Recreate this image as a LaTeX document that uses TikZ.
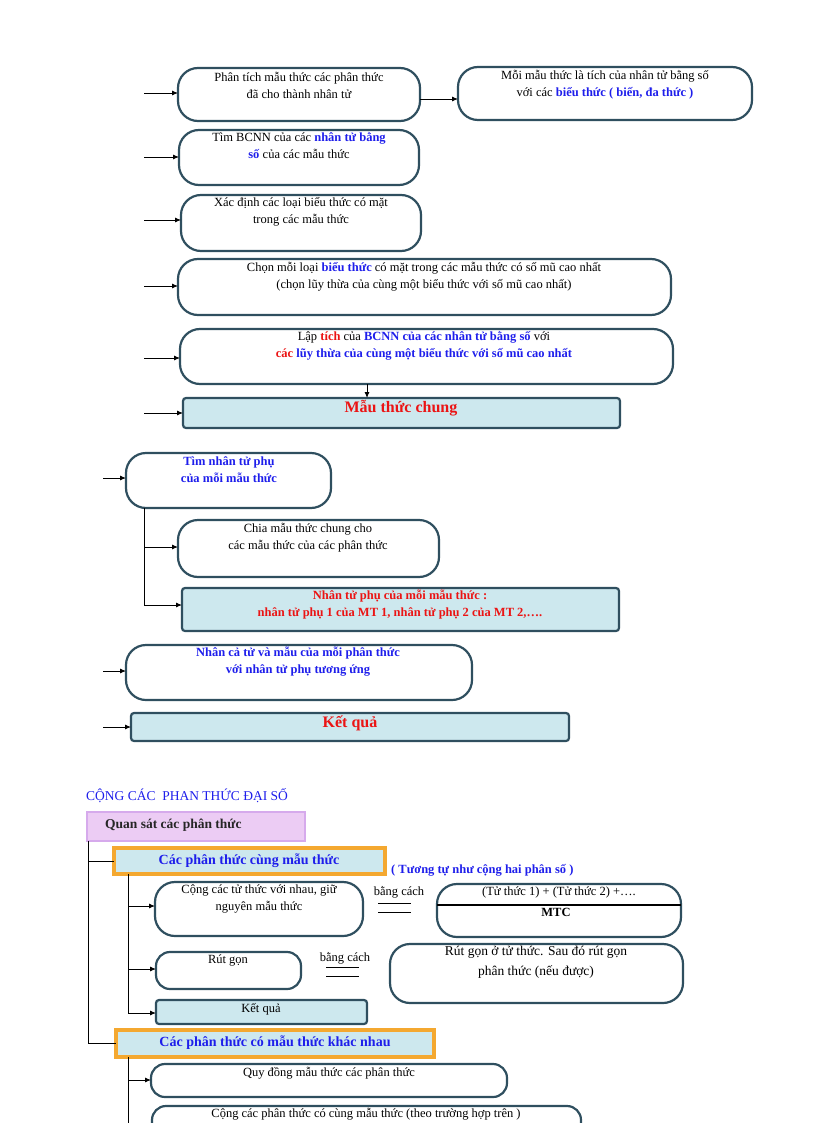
\documentclass[tikz,border=0pt]{standalone}
\usepackage{fontspec}
\setmainfont{Liberation Serif}
\usetikzlibrary{arrows.meta}
\definecolor{bd}{RGB}{47,79,95}
\definecolor{fc}{RGB}{205,232,238}
\definecolor{bl}{RGB}{30,30,235}
\definecolor{rd}{RGB}{235,20,20}
\definecolor{orb}{RGB}{244,168,48}
\definecolor{lav}{RGB}{236,204,244}
\definecolor{lavb}{RGB}{214,170,236}
\newcommand\B[1]{\textcolor{bl}{\textbf{#1}}}
\newcommand\R[1]{\textcolor{rd}{\textbf{#1}}}
\newcommand\bx[6]{\node[#6, minimum width={(#4-#2)*1pt}, minimum height={(#5-#3)*1pt}] (#1) at ({(#2+#4)/2},{(#3+#5)/2}) {};}
\tikzset{
 rb/.style={draw=bd, line width=2.2pt, rounded corners=20pt, inner sep=0pt, outer sep=0pt},
 rbs/.style={draw=bd, line width=2.2pt, rounded corners=14pt, inner sep=0pt, outer sep=0pt},
 fb/.style={draw=bd, line width=2.2pt, fill=fc, rounded corners=3pt, inner sep=0pt, outer sep=0pt},
 ob/.style={draw=orb, line width=1.8pt, fill=fc, double=orb, double distance=0pt, inner sep=0pt, outer sep=0pt},
 tx/.style={font=\fontsize{12.5}{17}\selectfont, align=center, inner sep=0pt, anchor=north},
 arr/.style={-{Latex[length=6pt,width=5pt]}, line width=0.9pt},
 ln/.style={line width=0.9pt},
}
\begin{document}
\begin{tikzpicture}[x=1pt,y=-1pt]
\useasboundingbox (0,0) rectangle (816,1123);
\clip (0,0) rectangle (816,1123);
% top flow
\bx{b1}{178}{68}{420}{121}{rb}
\node[tx] (t1) at (299,72) {Phân tích mẫu thức các phân thức\\đã cho thành nhân tử};
\bx{b2}{458}{67}{752}{120}{rb}
\node[tx] (t2) at (605,70) {Mỗi mẫu thức là tích của nhân tử bằng số\\với các \B{biểu thức ( biến, đa thức )}};
\draw[arr] (b1.east |- 0,99) -- (b2.west |- 0,99);
\bx{b3}{179}{130}{419}{185}{rb}
\node[tx] (t3) at (299,132) {Tìm BCNN của các \B{nhân tử bằng}\\\B{số} của các mẫu thức};
\bx{b4}{181}{195}{421}{251}{rb}
\node[tx] (t4) at (301,197) {Xác định các loại biểu thức có mặt\\trong các mẫu thức};
\bx{b5}{178}{259}{671}{315}{rb}
\node[tx] (t5) at (424,262) {Chọn mỗi loại \B{biểu thức} có mặt trong các mẫu thức có số mũ cao nhất\\(chọn lũy thừa của cùng một biểu thức với số mũ cao nhất)};
\bx{b6}{180}{329}{673}{384}{rb}
\node[tx] (t6) at (424,331) {Lập \R{tích} của \B{BCNN của các nhân tử bằng số} với\\\R{các} \B{lũy thừa của cùng một biểu thức với số mũ cao nhất}};
\bx{b7}{183}{398}{620}{428}{fb}
\node[tx, font=\fontsize{16}{18}\selectfont] (t7) at (401,400) {\R{Mẫu thức chung}};
\coordinate (d6) at (367,384);
\draw[arr] (d6) -- (d6 |- b7.north);
\foreach \n/\y in {b1/93,b3/157,b4/220,b5/286,b6/358,b7/413}{
 \coordinate (s\n) at (144,\y);
 \draw[arr] (s\n) -- (s\n -| \n.west);
}
% second block
\bx{b8}{126}{453}{331}{508}{rb}
\node[tx] (t8) at (229,456) {\B{Tìm nhân tử phụ}\\\B{của mỗi mẫu thức}};
\bx{b9}{178}{520}{439}{577}{rb}
\node[tx] (t9) at (308,523) {Chia mẫu thức chung cho\\các mẫu thức của các phân thức};
\bx{b10}{182}{588}{619}{631}{fb}
\node[tx] (t10) at (400,590) {\R{Nhân tử phụ của mỗi mẫu thức :}\\\R{nhân tử phụ 1 của MT 1, nhân tử phụ 2 của MT 2,….}};
\bx{b11}{126}{645}{472}{700}{rb}
\node[tx] (t11) at (298,647) {\B{Nhân cả tử và mẫu của mỗi phân thức}\\\B{với nhân tử phụ tương ứng}};
\bx{b12}{131}{713}{569}{741}{fb}
\node[tx, font=\fontsize{16}{18}\selectfont] (t12) at (350,716) {\R{Kết quả}};
\foreach \n/\y in {b8/478,b11/671,b12/727}{
 \coordinate (s\n) at (103,\y);
 \draw[arr] (s\n) -- (s\n -| \n.west);
}
\coordinate (v1) at (144,508);
\coordinate (v1e) at (144,605);
\draw[ln] (v1) -- (v1e);
\coordinate (v1a) at (144,547);
\draw[arr] (v1a) -- (v1a -| b9.west);
\draw[arr] (v1e) -- (v1e -| b10.west);
% section 2
\node[font=\fontsize{13.5}{16}\selectfont, text=bl, anchor=west, inner sep=0pt] (title) at (86,796) {CỘNG CÁC \ PHAN THỨC ĐẠI SỐ};
\bx{q}{87}{812}{305}{841}{draw=lavb, line width=1.5pt, fill=lav, inner sep=0pt}
\node[font=\fontsize{13.5}{16}\selectfont\bfseries, anchor=west, inner sep=0pt, text=black!85] (qt) at (105,825) {Quan sát các phân thức};
\bx{o1}{114}{848}{385}{874}{ob}
\node[font=\fontsize{14}{16}\selectfont\bfseries, text=bl, inner sep=0pt] (o1t) at (249,861) {Các phân thức cùng mẫu thức};
\node[font=\fontsize{12.5}{16}\selectfont\bfseries, text=bl, anchor=west, inner sep=0pt] (tt) at (391,870) {( Tương tự như cộng hai phân số )};
\coordinate (va) at (88,841);
\coordinate (vb) at (88,1043);
\draw[ln] (va) -- (vb);
\coordinate (ha) at (88,861);
\draw[ln] (ha) -- (ha -| o1.west);
\bx{o2}{116}{1030}{434}{1057}{ob}
\node[font=\fontsize{14}{16}\selectfont\bfseries, text=bl, inner sep=0pt] (o2t) at (275,1043) {Các phân thức có mẫu thức khác nhau};
\draw[ln] (vb) -- (vb -| o2.west);
% subtree 1
\bx{c1}{155}{882}{363}{936}{rb}
\node[tx] (c1t) at (259,885) {Cộng các tử thức với nhau, giữ\\nguyên mẫu thức};
\node[tx] (bc1) at (399,886) {bằng cách};
\coordinate (l1a) at (378,903); \coordinate (l1b) at (411,903);
\coordinate (l2a) at (378,912); \coordinate (l2b) at (411,912);
\draw[ln,line width=0.7pt] (l1a) -- (l1b); \draw[ln,line width=0.7pt] (l2a) -- (l2b);
\bx{c2}{437}{884}{681}{937}{rb}
\draw[ln,line width=1.2pt] (c2.west |- 0,905) -- (c2.east |- 0,905);
\node[tx] (c2a) at (559,887) {(Tử thức 1) + (Tử thức 2) +….};
\node[tx] (c2b) at (556,908) {\textbf{MTC}};
\bx{c3}{156}{952}{301}{989}{rbs}
\node[tx] (c3t) at (228,955) {Rút gọn};
\node[tx] (bc2) at (345,952) {bằng cách};
\coordinate (l3a) at (326,967); \coordinate (l3b) at (359,967);
\coordinate (l4a) at (326,976); \coordinate (l4b) at (359,976);
\draw[ln,line width=0.7pt] (l3a) -- (l3b); \draw[ln,line width=0.7pt] (l4a) -- (l4b);
\bx{c4}{390}{944}{683}{1003}{rb}
\node[tx, font=\fontsize{13.5}{20}\selectfont] (c4t) at (536,946) {Rút gọn ở tử thức. Sau đó rút gọn\\phân thức (nếu được)};
\bx{c5}{156}{1000}{367}{1024}{fb}
\node[tx] (c5t) at (261,1003) {Kết quả};
\coordinate (w1) at (128,874);
\coordinate (w2) at (128,1013);
\draw[ln] (w1) -- (w2);
\coordinate (w1a) at (128,906); \draw[arr] (w1a) -- (w1a -| c1.west);
\coordinate (w1b) at (128,969); \draw[arr] (w1b) -- (w1b -| c3.west);
\draw[arr] (w2) -- (w2 -| c5.west);
% subtree 2
\bx{e1}{151}{1064}{507}{1097}{rbs}
\node[tx] (e1t) at (329,1067) {Quy đồng mẫu thức các phân thức};
\bx{e2}{152}{1106}{581}{1150}{rbs}
\node[tx] (e2t) at (366,1108) {Cộng các phân thức có cùng mẫu thức (theo trường hợp trên )};
\coordinate (x1) at (128,1057);
\coordinate (x2) at (128,1123);
\draw[ln] (x1) -- (x2);
\coordinate (x1a) at (128,1080); \draw[arr] (x1a) -- (x1a -| e1.west);
\end{tikzpicture}
\end{document}
